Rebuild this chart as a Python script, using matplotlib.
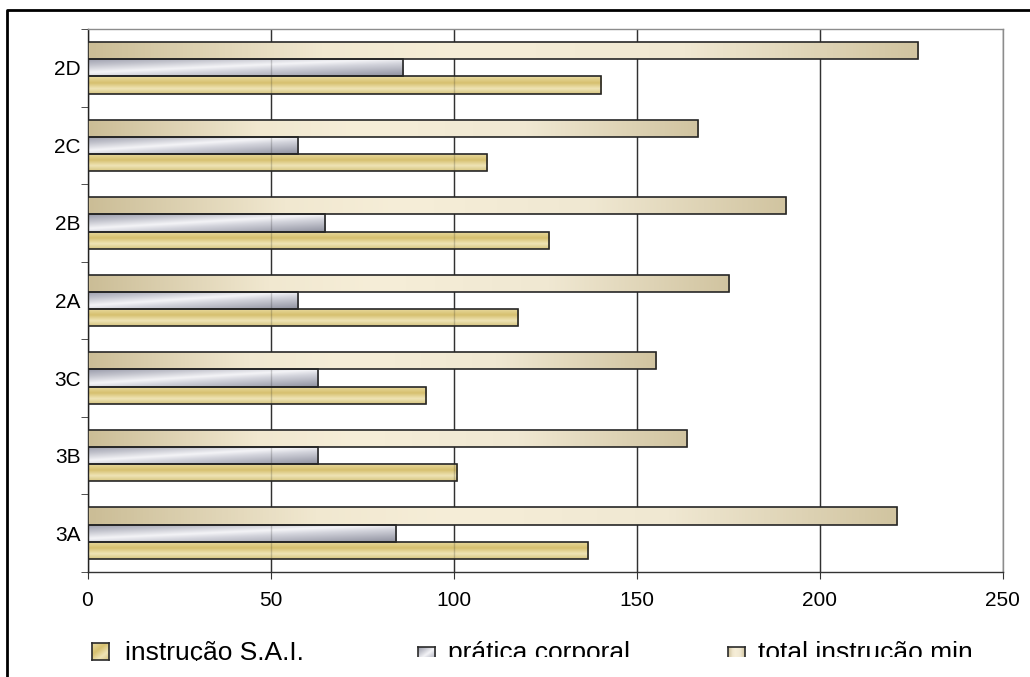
import numpy as np
import matplotlib
matplotlib.use("Agg")
import matplotlib.pyplot as plt
from matplotlib.colors import LinearSegmentedColormap
from matplotlib.patches import Rectangle
from matplotlib.lines import Line2D

plt.rcParams['font.family'] = ['Liberation Sans', 'DejaVu Sans']

# minutos por turma
turmas = ['3A', '3B', '3C', '2A', '2B', '2C', '2D']
instrucao_sai = [136.8, 100.8, 92.5, 117.5, 126.1, 109.2, 140.4]
pratica_corporal = [84.3, 63.0, 63.0, 57.6, 64.8, 57.6, 86.3]
total_instrucao = [221.1, 163.8, 155.4, 175.2, 190.8, 166.8, 226.8]
nomes = ['instrução S.A.I.', 'prática corporal', 'total instrução min']
x_ticks = [0, 50, 100, 150, 200, 250]

W, H = 1030, 677
fig = plt.figure(figsize=(W / 100, H / 100), dpi=100)
ax = fig.add_axes([87.5 / W, 1 - 572 / H, (1002.7 - 87.5) / W, (572 - 29) / H])

# gradientes estilo Excel
cmap_gold = LinearSegmentedColormap.from_list('gold', [
    (0.0, '#d6c480'), (0.3, '#efe4b6'), (0.62, '#d6c06f'), (1.0, '#ebdda4')])
cmap_grey = LinearSegmentedColormap.from_list('grey', [
    (0.0, '#8f919f'), (0.4, '#d3d4dc'), (0.55, '#f4f4f7'), (0.78, '#c2c3cc'), (1.0, '#9a9cab')])
cmap_cream = LinearSegmentedColormap.from_list('cream', [
    (0.0, '#cbbd96'), (0.28, '#f1e8d0'), (0.45, '#f6eed8'), (0.72, '#f0e8d2'), (1.0, '#d1c4a0')])

img_vert = np.linspace(0, 1, 64)[:, None] * np.ones((1, 4))
img_horiz = np.ones((4, 1)) * np.linspace(0, 1, 256)[None, :]
yy, xx = np.mgrid[0:1:40j, 0:1:200j]
img_diag = np.clip((yy - 0.8 * xx + 0.8) / 1.8, 0, 1)

y = np.arange(len(turmas))
h = 0.222


def fill_gradient(bars, img, cmap, z=2):
    for b in bars:
        x0, y0 = b.get_x(), b.get_y()
        w, hh = b.get_width(), b.get_height()
        im = ax.imshow(img, cmap=cmap, extent=(x0, x0 + w, y0, y0 + hh),
                       origin='lower', aspect='auto', interpolation='bilinear', zorder=z)
        im.set_clip_path(b)
        b.set_facecolor('none')


b1 = ax.barh(y - h, instrucao_sai, height=h, edgecolor='#262626', linewidth=1.2, zorder=3)
b2 = ax.barh(y, pratica_corporal, height=h, edgecolor='#262626', linewidth=1.2, zorder=3)
b3 = ax.barh(y + h, total_instrucao, height=h, edgecolor='#262626', linewidth=1.2, zorder=3)
fill_gradient(b1, img_vert, cmap_gold)
fill_gradient(b2, img_diag, cmap_grey)
fill_gradient(b3, img_horiz, cmap_cream, z=2.6)

# grade levemente visivel por cima das barras
for xv in x_ticks[1:-1]:
    ax.axvline(xv, color='black', alpha=0.18, linewidth=1, zorder=2.3)

ax.set_xlim(0, 250)
ax.set_ylim(-0.5, len(turmas) - 0.5)
ax.set_xticks(x_ticks)
ax.set_yticks(y)
ax.set_yticklabels(turmas)
ax.set_yticks(np.arange(-0.5, len(turmas)), minor=True)
ax.tick_params(axis='y', which='major', length=0, pad=5, labelsize=15)
ax.tick_params(axis='y', which='minor', length=5, color='#333333', direction='out')
ax.tick_params(axis='x', length=5, color='#333333', pad=9, labelsize=15)
ax.xaxis.grid(True, color='#3c3c3c', linewidth=1)
ax.set_axisbelow(True)

ax.spines['left'].set_color('#222222')
ax.spines['bottom'].set_color('#333333')
for s in ['top', 'right']:
    ax.spines[s].set_color('#8c8c8c')
for s in ax.spines.values():
    s.set_linewidth(1)

# legenda: amostras com gradiente
leg = [(92, 643, img_diag, cmap_gold, 125),
       (418, 647, img_diag, cmap_grey, 448),
       (728, 647, img_horiz, cmap_cream, 758)]
for (mx, my, img, cm, tx), nome in zip(leg, nomes):
    sw = fig.add_axes([mx / W, 1 - (my + 17) / H, 17 / W, 17 / H])
    sw.imshow(img, cmap=cm, origin='lower', aspect='auto', interpolation='bilinear')
    sw.set_xticks([])
    sw.set_yticks([])
    for s in sw.spines.values():
        s.set_color('#2a2a2a')
        s.set_linewidth(1.2)
    fig.text(tx / W, 1 - 660 / H, nome, fontsize=19, va='baseline', ha='left')

# borda externa
fig.add_artist(Line2D([7 / W, 7 / W, 1.01], [0, 1 - 10 / H, 1 - 10 / H],
                      transform=fig.transFigure, color='black', linewidth=2))
fig.add_artist(Rectangle((9 / W, 0), 400 / W, 16 / H, transform=fig.transFigure,
                         facecolor='white', edgecolor='none', zorder=10))
fig.add_artist(Rectangle((409 / W, 0), 1, 20 / H, transform=fig.transFigure,
                         facecolor='white', edgecolor='none', zorder=10))

fig.savefig('out.png', dpi=100)
